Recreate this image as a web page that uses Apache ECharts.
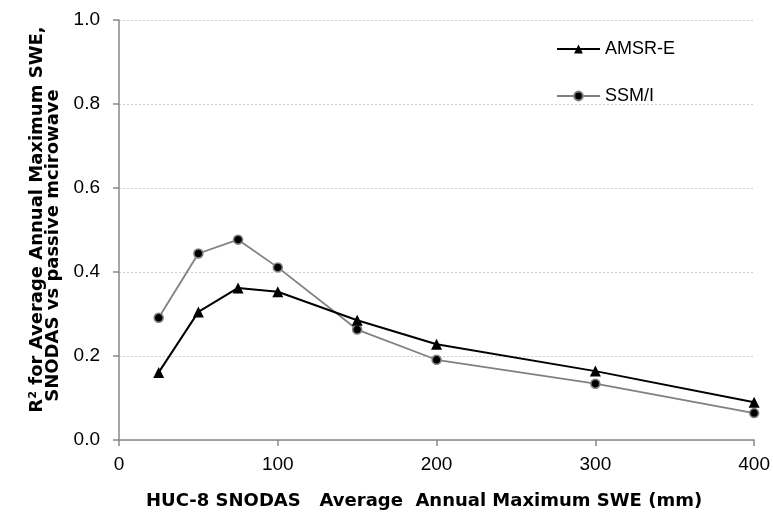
<!DOCTYPE html>
<html>
<head>
<meta charset="utf-8">
<script src="https://cdn.jsdelivr.net/npm/echarts@6/dist/echarts.min.js"></script>
<style>
  html, body { margin: 0; padding: 0; background: #fff; }
  #chart { width: 773px; height: 515px; }
</style>
</head>
<body>
<div id="chart"></div>
<script>
// Mean annual maximum SWE of each HUC-8 bin (mm)
const sweBins = [25, 50, 75, 100, 150, 200, 300, 400];
// R² between SNODAS and each passive microwave product
const amsrE = [0.161, 0.305, 0.362, 0.353, 0.285, 0.228, 0.164, 0.090];
const ssmI  = [0.291, 0.444, 0.477, 0.411, 0.263, 0.191, 0.134, 0.064];
const seriesNames = ['AMSR-E', 'SSM/I'];

const FONT = '"Liberation Sans", Arial, sans-serif';
const TITLE_FONT = '"DejaVu Sans", "Liberation Sans", sans-serif';

const chart = echarts.init(document.getElementById('chart'), null, { renderer: 'canvas' });

const pairs = (xs, ys) => xs.map((x, i) => [x, ys[i]]);

const titleStyle = { fontFamily: TITLE_FONT, fontSize: 18, fontWeight: 'bold', color: '#000' };

chart.setOption({
  animation: false,
  backgroundColor: '#ffffff',
  textStyle: { fontFamily: FONT },
  grid: { left: 119, right: 17, top: 20, bottom: 74, containLabel: false },
  legend: {
    orient: 'vertical',
    left: 551,
    top: 35,
    itemWidth: 43,
    itemHeight: 11,
    itemGap: 29,
    textStyle: { fontFamily: FONT, fontSize: 18, color: '#000' },
    data: seriesNames
  },
  xAxis: {
    type: 'value',
    min: 0,
    max: 400,
    interval: 100,
    name: 'HUC-8 SNODAS   Average  Annual Maximum SWE (mm)',
    nameLocation: 'middle',
    nameGap: 52,
    nameTextStyle: Object.assign({}, titleStyle, { padding: [0, 25, 0, 0] }),
    axisLine: { show: true, lineStyle: { color: '#888', width: 1.5 } },
    axisTick: { show: true, length: 6, lineStyle: { color: '#888', width: 1.5 } },
    axisLabel: { fontFamily: FONT, fontSize: 19, color: '#000', margin: 15 },
    splitLine: { show: false }
  },
  yAxis: {
    type: 'value',
    min: 0,
    max: 1,
    interval: 0.2,
    name: '{a|R\u00b2 for Average Annual Maximum SWE,}\n{b|SNODAS vs passive mcirowave}',
    nameLocation: 'middle',
    nameGap: 56,
    nameTextStyle: Object.assign({}, titleStyle, {
      lineHeight: 16,
      rich: {
        a: Object.assign({}, titleStyle, { lineHeight: 16, padding: [0, 0, 0, 21] }),
        b: Object.assign({}, titleStyle, { lineHeight: 16, padding: [0, 31, 0, 0] })
      }
    }),
    axisLine: { show: true, lineStyle: { color: '#888', width: 1.5 } },
    axisTick: { show: true, length: 6, lineStyle: { color: '#888', width: 1.5 } },
    axisLabel: {
      fontFamily: FONT, fontSize: 19, color: '#000', margin: 19,
      formatter: v => v.toFixed(1)
    },
    splitLine: { show: true, lineStyle: { color: '#cfcfcf', type: [2, 2], width: 1 } }
  },
  series: [
    {
      name: seriesNames[0],
      type: 'line',
      data: pairs(sweBins, amsrE),
      symbol: 'triangle',
      symbolSize: 11,
      lineStyle: { color: '#000', width: 2 },
      itemStyle: { color: '#000', borderWidth: 0 },
      z: 3
    },
    {
      name: seriesNames[1],
      type: 'line',
      data: pairs(sweBins, ssmI),
      symbol: 'circle',
      symbolSize: 9,
      lineStyle: { color: '#808080', width: 1.8 },
      itemStyle: { color: '#000', borderColor: '#808080', borderWidth: 1.5 },
      z: 2
    }
  ]
});
</script>
</body>
</html>
